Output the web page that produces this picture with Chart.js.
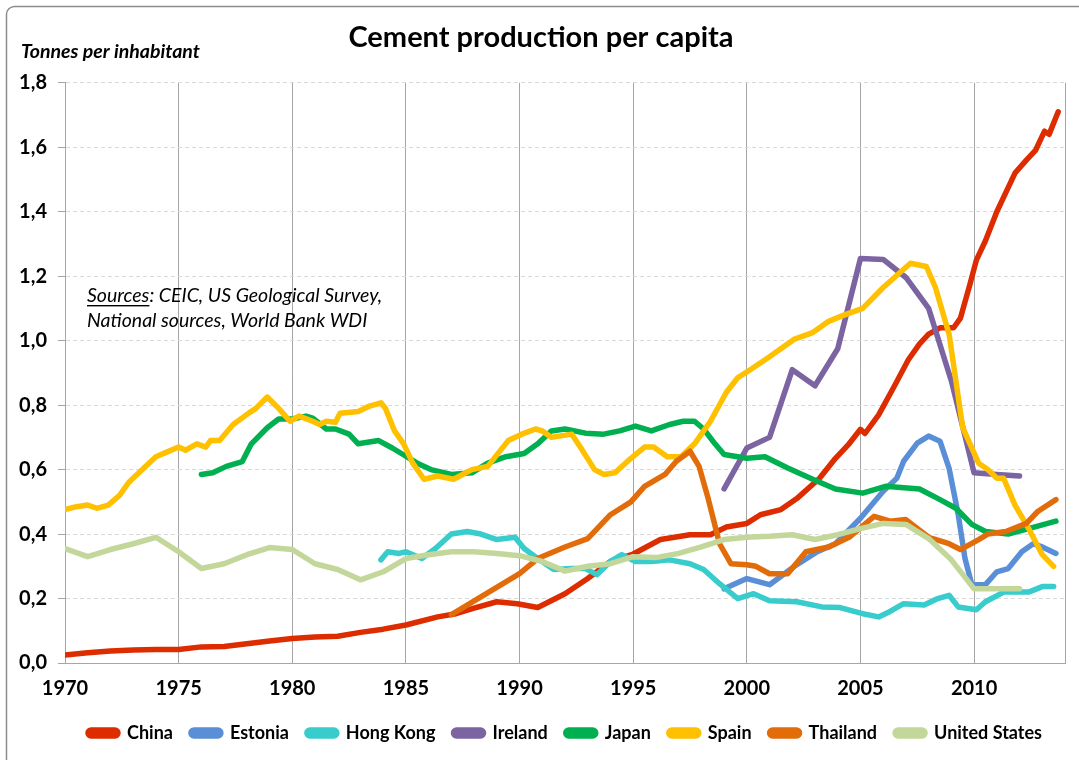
<!DOCTYPE html>
<html>
<head>
<meta charset="utf-8">
<script src="https://cdn.jsdelivr.net/npm/chart.js@4"></script>
<style>
  html, body { margin: 0; padding: 0; background: #fff; }
  #wrap { width: 1079px; height: 760px; position: relative; }
</style>
</head>
<body>
<div id="wrap"><canvas id="cementChart" width="1079" height="760"></canvas></div>
<script>
// series data: [year, tonnes per inhabitant]
const chinaYears = [1970,1971,1972,1973,1974,1975,1976,1977,1978,1979,1980,1981,1982,1983,1984,1985,1986.4,1987.2,1988,1989,1989.9,1990.8,1992,1993,1994,1995,1996.2,1997.5,1998.4,1999.1,2000,2000.6,2001.5,2002.2,2003.2,2003.9,2004.5,2005,2005.2,2005.8,2006.5,2007.1,2007.6,2008,2008.5,2009.1,2009.4,2009.8,2010.1,2010.5,2011,2011.4,2011.8,2012.3,2012.7,2013.1,2013.3,2013.7];
const chinaValues = [0.025,0.032,0.037,0.040,0.042,0.042,0.050,0.051,0.060,0.068,0.076,0.081,0.083,0.095,0.105,0.118,0.143,0.153,0.170,0.190,0.184,0.172,0.215,0.262,0.315,0.338,0.383,0.398,0.398,0.422,0.433,0.460,0.476,0.510,0.573,0.635,0.680,0.725,0.712,0.770,0.860,0.940,0.990,1.020,1.040,1.040,1.070,1.170,1.250,1.310,1.400,1.460,1.520,1.560,1.590,1.650,1.640,1.710];

const estoniaYears = [1999,2000,2001,2002.1,2003.1,2003.9,2005,2006,2006.6,2006.9,2007.5,2008,2008.5,2008.9,2009.3,2009.6,2009.9,2010.5,2011,2011.5,2012.1,2012.6,2013,2013.6];
const estoniaValues = [0.230,0.262,0.243,0.300,0.345,0.370,0.449,0.533,0.573,0.626,0.682,0.704,0.688,0.604,0.461,0.324,0.243,0.243,0.283,0.293,0.345,0.370,0.360,0.340];

const hongKongYears = [1983.9,1984.2,1984.7,1985,1985.7,1986.3,1987,1987.7,1988.3,1989,1989.8,1990.2,1990.8,1991.5,1992.3,1992.9,1993.4,1994,1994.5,1995.1,1995.8,1996.6,1997.5,1998.1,1998.8,1999.6,2000.3,2001,2002.2,2003.3,2004.1,2005.1,2005.8,2006.3,2006.9,2007.8,2008.4,2008.9,2009.3,2010.1,2010.5,2011.3,2012.4,2013,2013.5];
const hongKongValues = [0.320,0.345,0.340,0.345,0.324,0.355,0.400,0.408,0.400,0.383,0.390,0.355,0.324,0.290,0.293,0.293,0.274,0.315,0.336,0.315,0.315,0.320,0.308,0.290,0.246,0.200,0.215,0.193,0.190,0.174,0.172,0.153,0.143,0.160,0.184,0.180,0.200,0.210,0.174,0.165,0.190,0.220,0.220,0.237,0.237];

const irelandYears = [1999,2000,2001,2002,2003,2004,2005,2006,2007,2008,2009,2010,2011,2012];
const irelandValues = [0.540,0.667,0.700,0.910,0.860,0.975,1.255,1.252,1.196,1.100,0.875,0.590,0.585,0.580];

const japanYears = [1976,1976.5,1977.1,1977.8,1978.2,1978.9,1979.4,1980,1980.6,1980.9,1981.5,1981.9,1982.5,1982.9,1983.8,1984.4,1984.8,1985.5,1986.1,1987,1987.9,1988.6,1989.4,1990.2,1990.8,1991.4,1992,1992.9,1993.7,1994.4,1995.1,1995.8,1996.6,1997.2,1997.7,1998.1,1998.6,1999,2000,2000.8,2001.8,2002.9,2003.9,2005.1,2006.1,2007.6,2008.5,2009.2,2009.9,2010.5,2011.5,2012.4,2013.6];
const japanValues = [0.585,0.590,0.610,0.625,0.680,0.730,0.757,0.757,0.766,0.760,0.726,0.726,0.710,0.680,0.690,0.667,0.650,0.620,0.600,0.585,0.590,0.620,0.640,0.650,0.680,0.720,0.726,0.713,0.710,0.720,0.735,0.720,0.740,0.750,0.750,0.726,0.680,0.647,0.635,0.640,0.605,0.570,0.540,0.527,0.548,0.540,0.507,0.480,0.430,0.408,0.400,0.417,0.440];

const spainYears = [1970,1970.5,1971,1971.4,1971.9,1972.4,1972.8,1973.4,1974,1974.5,1975,1975.3,1975.8,1976.2,1976.4,1976.8,1977.4,1978.1,1978.4,1978.9,1979.4,1979.9,1980.3,1980.9,1981.2,1981.5,1981.9,1982.1,1982.9,1983.4,1983.9,1984.1,1984.5,1984.9,1985.3,1985.8,1986.4,1987.1,1987.9,1988.6,1989.5,1990.1,1990.7,1991,1991.4,1992.3,1992.7,1993.3,1993.7,1994.2,1994.9,1995.5,1995.9,1996.5,1997.1,1997.7,1998.4,1999.1,1999.6,2000.2,2001,2002.1,2002.9,2003.6,2004.3,2005.1,2006,2007.2,2007.9,2008.3,2008.9,2009.5,2010.2,2010.6,2011,2011.3,2011.8,2012.4,2013,2013.5];
const spainValues = [0.476,0.485,0.490,0.480,0.490,0.520,0.560,0.600,0.640,0.655,0.670,0.660,0.680,0.670,0.690,0.690,0.740,0.776,0.790,0.825,0.790,0.750,0.766,0.750,0.740,0.750,0.747,0.775,0.780,0.797,0.807,0.790,0.720,0.680,0.620,0.570,0.580,0.570,0.600,0.610,0.690,0.710,0.726,0.720,0.700,0.710,0.667,0.600,0.585,0.590,0.635,0.670,0.670,0.640,0.640,0.680,0.750,0.840,0.885,0.912,0.950,1.005,1.025,1.060,1.080,1.100,1.165,1.240,1.230,1.165,1.020,0.730,0.620,0.600,0.573,0.573,0.490,0.417,0.336,0.300];

const thailandYears = [1987,1990,1990.8,1992,1993,1994,1994.9,1995.5,1996.4,1996.9,1997.5,1997.9,1998.3,1998.8,1999.3,2000,2000.4,2001,2001.8,2002.6,2003.6,2004.5,2005.6,2006.3,2007,2008,2008.9,2009.4,2010.2,2010.6,2011.4,2012.3,2012.8,2013.6];
const thailandValues = [0.150,0.277,0.324,0.360,0.386,0.460,0.500,0.548,0.585,0.626,0.657,0.610,0.510,0.370,0.308,0.305,0.300,0.277,0.277,0.345,0.360,0.390,0.455,0.440,0.445,0.390,0.370,0.352,0.383,0.400,0.408,0.433,0.470,0.507];

const usYears = [1970,1971,1972,1973,1974,1975,1976,1977,1978,1979,1980,1981,1982,1983,1984,1985,1986,1987,1988,1989,1990,1991,1992,1993,1994,1995,1996,1997,1998,1999,2000,2001,2002,2003,2004,2005,2006,2007,2008,2009,2010,2011,2012];
const usValues = [0.355,0.330,0.352,0.370,0.390,0.345,0.293,0.308,0.336,0.358,0.352,0.308,0.290,0.258,0.283,0.324,0.336,0.345,0.345,0.340,0.333,0.315,0.285,0.300,0.308,0.330,0.327,0.340,0.360,0.383,0.390,0.393,0.398,0.383,0.398,0.417,0.433,0.430,0.386,0.320,0.230,0.230,0.230];

const seriesNames = ['China','Estonia','Hong Kong','Ireland','Japan','Spain','Thailand','United States'];
const seriesColors = ['#dd2c00','#5a8fd8','#38cccc','#7b64a1','#00b050','#ffc000','#e36c0a','#c4d79b'];
const seriesYears = [chinaYears, estoniaYears, hongKongYears, irelandYears, japanYears, spainYears, thailandYears, usYears];
const seriesValues = [chinaValues, estoniaValues, hongKongValues, irelandValues, japanValues, spainValues, thailandValues, usValues];

const FONT = 'Lato, "Open Sans", sans-serif';

// outer frame, the free-floating texts, and a nudge of the legend row
const decorPlugin = {
    id: 'decor',
    afterLayout(chart) {
        // the original legend row sits a bit right of the canvas centre
        chart.legend.left += 24;
        chart.legend.right += 24;
    },
    beforeDraw(chart) {
        const ctx = chart.ctx;
        ctx.save();
        ctx.strokeStyle = '#8c8c8c';
        ctx.lineWidth = 1.5;
        ctx.beginPath();
        ctx.roundRect(6.5, 6.5, 1090, 770, 8);
        ctx.stroke();
        ctx.restore();
    },
    afterDraw(chart) {
        const ctx = chart.ctx;
        ctx.save();
        ctx.fillStyle = '#000';
        ctx.textBaseline = 'middle';
        ctx.font = 'italic bold 19.5px ' + FONT;
        ctx.fillText('Tonnes per inhabitant', 21, 52);

        ctx.font = 'italic 19.5px ' + FONT;
        ctx.textBaseline = 'alphabetic';
        const x0 = 87;
        ctx.fillText('Sources', x0, 302);
        const w = ctx.measureText('Sources').width;
        ctx.fillRect(x0, 305, w, 1.4);
        ctx.fillText(': CEIC, US Geological Survey,', x0 + w, 302);
        ctx.fillText('National sources, World Bank WDI', x0, 327);
        ctx.restore();
    }
};

const ctx = document.getElementById('cementChart').getContext('2d');
new Chart(ctx, {
    type: 'line',
    data: {
        datasets: seriesNames.map((name, i) => ({
            label: name,
            data: seriesYears[i].map((yr, j) => ({ x: yr, y: seriesValues[i][j] })),
            borderColor: seriesColors[i],
            backgroundColor: seriesColors[i],
            borderWidth: 5.5,
            borderJoinStyle: 'round',
            borderCapStyle: 'round',
            pointRadius: 0,
            tension: 0,
            order: seriesNames.length - i // later series on top, like the original
        }))
    },
    options: {
        responsive: false,
        animation: false,
        layout: { padding: { left: 12, right: 9, top: 0, bottom: 8 } },
        plugins: {
            title: {
                display: true,
                text: 'Cement production per capita',
                color: '#000',
                font: { family: FONT, size: 29, weight: 'bold' },
                padding: { top: 20, bottom: 28 }
            },
            legend: {
                position: 'bottom',
                labels: {
                    color: '#000',
                    font: { family: FONT, size: 18, weight: 'bold' },
                    boxWidth: 30,
                    boxHeight: 6,
                    padding: 18,
                    useBorderRadius: true,
                    borderRadius: 3,
                    sort: (a, b) => a.datasetIndex - b.datasetIndex
                }
            },
            tooltip: { enabled: false }
        },
        scales: {
            x: {
                type: 'linear',
                min: 1970,
                max: 2014,
                afterFit: (scale) => { scale.height = 43; },
                grid: { color: '#a6a6a6', drawTicks: false },
                border: { display: true, color: '#a6a6a6' },
                ticks: {
                    stepSize: 5,
                    padding: 14,
                    color: '#000',
                    font: { family: FONT, size: 20, weight: 'bold' },
                    callback: (v) => (v % 5 === 0 ? String(v) : '')
                }
            },
            y: {
                min: 0,
                max: 1.8,
                afterFit: (scale) => { scale.width = 53; },
                grid: { color: '#d9d9d9', tickColor: '#a6a6a6', tickLength: 7 },
                border: { display: true, color: '#a6a6a6', dash: [4, 3] },
                ticks: {
                    stepSize: 0.2,
                    padding: 11,
                    color: '#000',
                    font: { family: FONT, size: 20, weight: 'bold' },
                    callback: (v) => v.toFixed(1).replace('.', ',')
                }
            }
        }
    },
    plugins: [decorPlugin]
});
</script>
</body>
</html>
